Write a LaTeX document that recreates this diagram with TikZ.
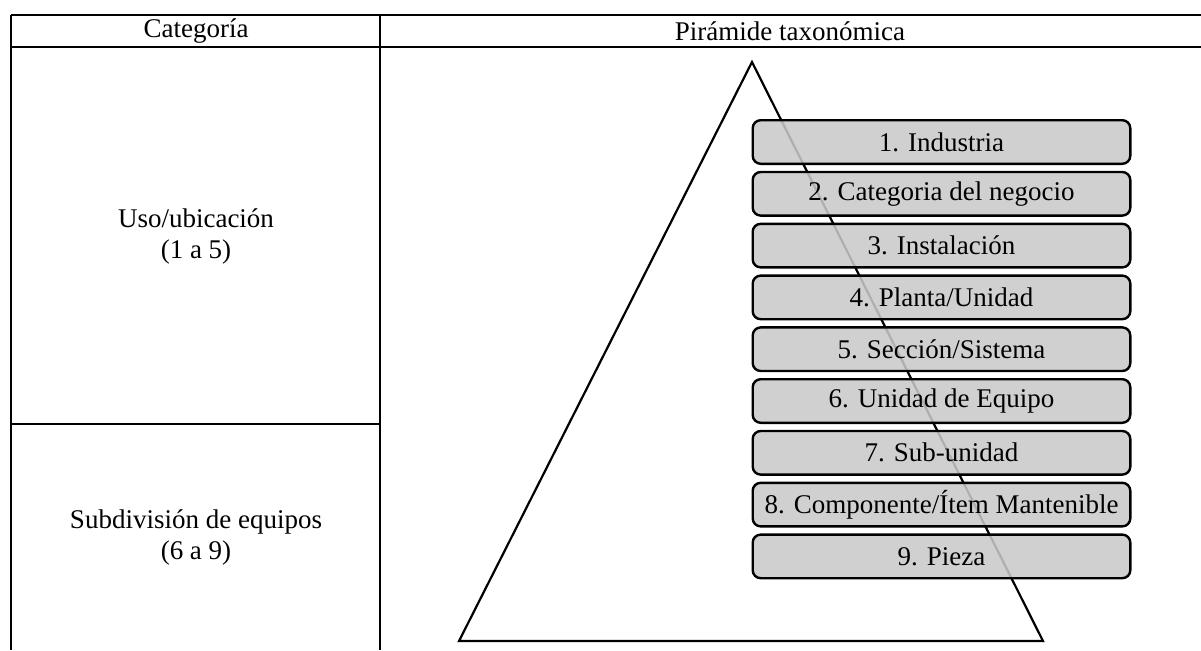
\documentclass[tikz,border=0pt]{standalone}
\usepackage{fontspec}
\setmainfont{Liberation Serif}
\usetikzlibrary{positioning}

\begin{document}
\begin{tikzpicture}[x=0.5pt, y=-0.5pt, node distance=2.9pt,
	font=\fontsize{13.5}{15.5}\selectfont,
	tabla/.style={line width=1.3pt},
	nivel/.style={rectangle, draw, line width=1.2pt, rounded corners=4pt,
		fill={rgb,255:red,201;green,201;blue,201}, fill opacity=0.87, text opacity=1,
		minimum width=188.8pt, minimum height=21.8pt, inner sep=0pt}]
				\useasboundingbox (0,0) rectangle (1201,650);

				% tabla
				\draw[tabla] (11,15) -- (1201,15);
				\draw[tabla] (11,47) -- (1201,47);
				\draw[tabla] (11,15) -- (11,650);
				\draw[tabla] (380,15) -- (380,650);
				\draw[tabla] (11,424) -- (380,424);

				\node (cat) at (196,31) {Categoría};
				\node (pir) at (790,31) {Pirámide taxonómica};
				\node [align=center] (uso) at (196,236) {Uso/ubicación\\(1 a 5)};
				\node [align=center] (sub) at (196,537) {Subdivisión de equipos\\(6 a 9)};

				% piramide
				\coordinate (cima) at (752,62);
				\coordinate (izq) at (459,641);
				\coordinate (der) at (1043,641);
				\draw[line width=1.1pt] (cima) -- (izq) -- (der) -- cycle;

				\node [nivel] (1) at (941.5,142) {1. Industria};
				\node [nivel, below=of 1] (2) {2. Categoria del negocio};
				\node [nivel, below=of 2] (3) {3. Instalación};
				\node [nivel, below=of 3] (4) {4. Planta/Unidad};
				\node [nivel, below=of 4] (5) {5. Sección/Sistema};
				\node [nivel, below=of 5] (6) {6. Unidad de Equipo};
				\node [nivel, below=of 6] (7) {7. Sub-unidad};
				\node [nivel, below=of 7] (8) {8. Componente/Ítem Mantenible};
				\node [nivel, below=of 8] (9) {9. Pieza};
			\end{tikzpicture}
\end{document}
